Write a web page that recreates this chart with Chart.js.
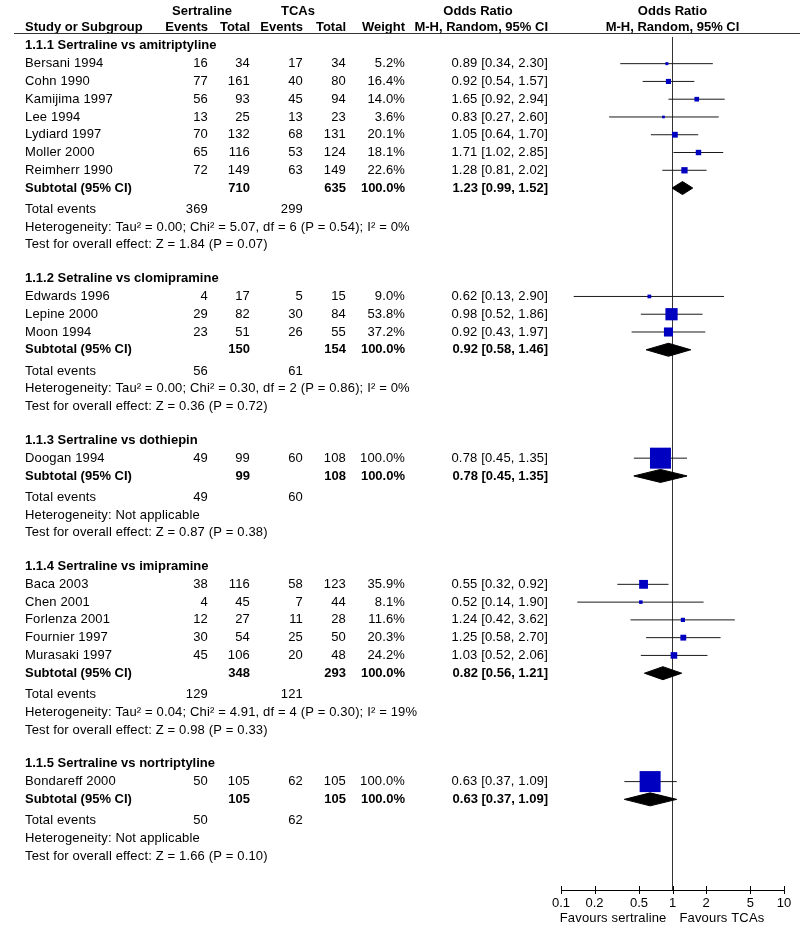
<!DOCTYPE html>
<html><head><meta charset="utf-8">
<script src="https://cdn.jsdelivr.net/npm/chart.js@4"></script>
<style>html,body{margin:0;padding:0;background:#fff}canvas{display:block}</style>
</head><body>
<canvas id="c" width="800" height="937" style="width:800px;height:937px"></canvas>
<script>
// ---------------- data ----------------
const groupTitles = ["1.1.1 Sertraline vs amitriptyline","1.1.2 Setraline vs clomipramine","1.1.3 Sertraline vs dothiepin","1.1.4 Sertraline vs imipramine","1.1.5 Sertraline vs nortriptyline"];
const studyNames = ["Bersani 1994","Cohn 1990","Kamijima 1997","Lee 1994","Lydiard 1997","Moller 2000","Reimherr 1990","Edwards 1996","Lepine 2000","Moon 1994","Doogan 1994","Baca 2003","Chen 2001","Forlenza 2001","Fournier 1997","Murasaki 1997","Bondareff 2000"];
const studyGroup = [0,0,0,0,0,0,0,1,1,1,2,3,3,3,3,3,4];
const sertEvents = [16,77,56,13,70,65,72,4,29,23,49,38,4,12,30,45,50];
const sertTotal  = [34,161,93,25,132,116,149,17,82,51,99,116,45,27,54,106,105];
const tcaEvents  = [17,40,45,13,68,53,63,5,30,26,60,58,7,11,25,20,62];
const tcaTotal   = [34,80,94,23,131,124,149,15,84,55,108,123,44,28,50,48,105];
const weights    = [5.2,16.4,14.0,3.6,20.1,18.1,22.6,9.0,53.8,37.2,100.0,35.9,8.1,11.6,20.3,24.2,100.0];
const orEst  = [0.89,0.92,1.65,0.83,1.05,1.71,1.28,0.62,0.98,0.92,0.78,0.55,0.52,1.24,1.25,1.03,0.63];
const orLow  = [0.34,0.54,0.92,0.27,0.64,1.02,0.81,0.13,0.52,0.43,0.45,0.32,0.14,0.42,0.58,0.52,0.37];
const orHigh = [2.30,1.57,2.94,2.60,1.70,2.85,2.02,2.90,1.86,1.97,1.35,0.92,1.90,3.62,2.70,2.06,1.09];
const subSertTotal = [710,150,99,348,105];
const subTcaTotal  = [635,154,108,293,105];
const subEst  = [1.23,0.92,0.78,0.82,0.63];
const subLow  = [0.99,0.58,0.45,0.56,0.37];
const subHigh = [1.52,1.46,1.35,1.21,1.09];
const totEventsSert = [369,56,49,129,50];
const totEventsTca  = [299,61,60,121,62];
const heterogeneity = ["Heterogeneity: Tau\u00b2 = 0.00; Chi\u00b2 = 5.07, df = 6 (P = 0.54); I\u00b2 = 0%","Heterogeneity: Tau\u00b2 = 0.00; Chi\u00b2 = 0.30, df = 2 (P = 0.86); I\u00b2 = 0%","Heterogeneity: Not applicable","Heterogeneity: Tau\u00b2 = 0.04; Chi\u00b2 = 4.91, df = 4 (P = 0.30); I\u00b2 = 19%","Heterogeneity: Not applicable"];
const overallTests = ["Test for overall effect: Z = 1.84 (P = 0.07)","Test for overall effect: Z = 0.36 (P = 0.72)","Test for overall effect: Z = 0.87 (P = 0.38)","Test for overall effect: Z = 0.98 (P = 0.33)","Test for overall effect: Z = 1.66 (P = 0.10)"];
const xTicks = [0.1,0.2,0.5,1,2,5,10];
const xTickLabels = ["0.1","0.2","0.5","1","2","5","10"];
const favourLeft = "Favours sertraline", favourRight = "Favours TCAs";

// ---------------- row layout (row units) ----------------
const lines = [];
const studyRow = [], subRow = [];
let u = 0.5;
groupTitles.forEach((t, g) => {
  lines.push({type:'heading', g, u}); u += 1;
  studyNames.forEach((n, i) => { if (studyGroup[i] === g) { studyRow[i] = u; lines.push({type:'study', i, u}); u += 1; } });
  subRow[g] = u; lines.push({type:'subtotal', g, u}); u += 1.2;
  lines.push({type:'events', g, u}); u += 1;
  lines.push({type:'het', g, u}); u += 1;
  lines.push({type:'test', g, u}); u += 1.9;
});
const Y_MAX = 48;
const DIAMOND_H = 0.366;

// ---------------- datasets ----------------
const squareData = studyNames.map((n, i) => ({x: orEst[i], y: studyRow[i]}));
const squareRadius = weights.map(w => (2 + 0.19 * w) / (2 * Math.SQRT1_2));
const ciData = [];
studyNames.forEach((n, i) => { ciData.push({x: orLow[i], y: studyRow[i]}, {x: orHigh[i], y: studyRow[i]}, {x: null, y: null}); });
const diamondSets = subEst.map((e, g) => ({
  type: 'line', order: 1,
  data: [{x: subLow[g], y: subRow[g]}, {x: e, y: subRow[g] - DIAMOND_H}, {x: subHigh[g], y: subRow[g]}, {x: e, y: subRow[g] + DIAMOND_H}, {x: subLow[g], y: subRow[g]}],
  borderColor: '#000', backgroundColor: '#000', borderWidth: 1, pointRadius: 0, fill: 'shape', tension: 0
}));

const FONT = '"Liberation Sans", Arial, sans-serif';
const COL = {name: 25, sEv: 208, sTot: 250, tEv: 303, tTot: 346, w: 405, or: 548};

const tablePlugin = {
  id: 'table',
  afterDraw(chart) {
    const ctx = chart.ctx, ys = chart.scales.y, xs = chart.scales.x, ca = chart.chartArea;
    ctx.save();
    ctx.fillStyle = '#000';
    ctx.textBaseline = 'middle';
    const t = (s, x, y, align, bold) => {
      ctx.font = (bold ? 'bold ' : '') + '13px ' + FONT;
      try { ctx.letterSpacing = bold ? '0px' : '0.15px'; } catch (e) {}
      ctx.textAlign = align; ctx.fillText(String(s), x, y);
    };
    // header
    const xc = xs.getPixelForValue(1);
    t('Sertraline', 202, 11, 'center', true);
    t('TCAs', 298, 11, 'center', true);
    t('Odds Ratio', 478, 11, 'center', true);
    t('Odds Ratio', xc, 11, 'center', true);
    t('Study or Subgroup', COL.name, 27, 'left', true);
    t('Events', COL.sEv, 27, 'right', true);
    t('Total', COL.sTot, 27, 'right', true);
    t('Events', COL.tEv, 27, 'right', true);
    t('Total', COL.tTot, 27, 'right', true);
    t('Weight', COL.w, 27, 'right', true);
    t('M-H, Random, 95% CI', COL.or, 27, 'right', true);
    t('M-H, Random, 95% CI', xc, 27, 'center', true);
    ctx.strokeStyle = '#333'; ctx.lineWidth = 1;
    ctx.beginPath(); ctx.moveTo(14, 33.5); ctx.lineTo(800, 33.5); ctx.stroke();
    const f2 = v => v.toFixed(2);
    const ci = (e, l, h) => f2(e) + ' [' + f2(l) + ', ' + f2(h) + ']';
    lines.forEach(L => {
      const y = ys.getPixelForValue(L.u);
      if (L.type === 'heading') t(groupTitles[L.g], COL.name, y, 'left', true);
      else if (L.type === 'study') {
        const i = L.i;
        t(studyNames[i], COL.name, y, 'left');
        t(sertEvents[i], COL.sEv, y, 'right');
        t(sertTotal[i], COL.sTot, y, 'right');
        t(tcaEvents[i], COL.tEv, y, 'right');
        t(tcaTotal[i], COL.tTot, y, 'right');
        t(weights[i].toFixed(1) + '%', COL.w, y, 'right');
        t(ci(orEst[i], orLow[i], orHigh[i]), COL.or, y, 'right');
      } else if (L.type === 'subtotal') {
        const g = L.g;
        t('Subtotal (95% CI)', COL.name, y, 'left', true);
        t(subSertTotal[g], COL.sTot, y, 'right', true);
        t(subTcaTotal[g], COL.tTot, y, 'right', true);
        t('100.0%', COL.w, y, 'right', true);
        t(ci(subEst[g], subLow[g], subHigh[g]), COL.or, y, 'right', true);
      } else if (L.type === 'events') {
        t('Total events', COL.name, y, 'left');
        t(totEventsSert[L.g], COL.sEv, y, 'right');
        t(totEventsTca[L.g], COL.tEv, y, 'right');
      } else if (L.type === 'het') t(heterogeneity[L.g], COL.name, y, 'left');
      else if (L.type === 'test') t(overallTests[L.g], COL.name, y, 'left');
    });
    // axis tick marks crossing the axis line
    ctx.strokeStyle = '#000'; ctx.lineWidth = 1;
    xTicks.forEach(v => {
      const x = Math.round(xs.getPixelForValue(v)) + 0.5;
      ctx.beginPath(); ctx.moveTo(x, ca.bottom - 4); ctx.lineTo(x, ca.bottom + 4); ctx.stroke();
    });
    t(favourLeft, xc - 6, ca.bottom + 28, 'right');
    t(favourRight, xc + 7, ca.bottom + 28, 'left');
    ctx.restore();
  }
};

new Chart(document.getElementById('c'), {
  type: 'scatter',
  data: {
    datasets: [
      {type: 'scatter', order: 0, data: squareData, pointStyle: 'rect', pointRadius: squareRadius, pointHoverRadius: squareRadius, backgroundColor: '#0000C0', borderColor: '#0000C0', borderWidth: 0},
      ...diamondSets,
      {type: 'line', order: 2, data: ciData, borderColor: '#1a1a1a', borderWidth: 1, pointRadius: 0, spanGaps: false, fill: false, tension: 0},
      {type: 'line', order: 3, data: [{x: 1, y: 0}, {x: 1, y: Y_MAX}], borderColor: '#333', borderWidth: 1, pointRadius: 0, fill: false}
    ]
  },
  options: {
    responsive: false, animation: false, events: [],
    layout: {padding: {left: 561, right: 16, top: 37, bottom: 0}},
    plugins: {legend: {display: false}, tooltip: {enabled: false}},
    scales: {
      x: {
        type: 'logarithmic', min: 0.1, max: 10, position: 'bottom',
        afterBuildTicks: s => { s.ticks = xTicks.map(v => ({value: v})); },
        afterFit: s => { s.height = 47; },
        ticks: {autoSkip: false, maxRotation: 0, color: '#000', padding: 6, font: {family: FONT, size: 13}, callback: (v, i) => xTickLabels[i]},
        grid: {display: true, drawOnChartArea: false, drawTicks: false},
        border: {display: true, color: '#000', width: 1}
      },
      y: {type: 'linear', min: 0, max: Y_MAX, reverse: true, display: false}
    }
  },
  plugins: [tablePlugin]
});
</script>
</body></html>
